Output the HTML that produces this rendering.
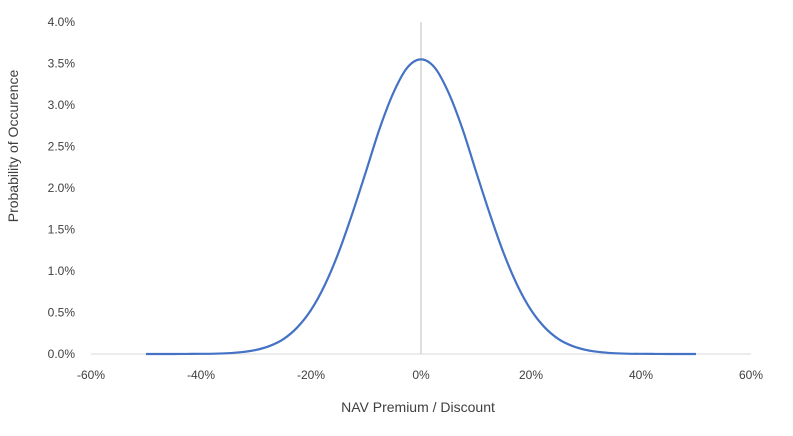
<!DOCTYPE html>
<html><head><meta charset="utf-8">
<style>
html,body{margin:0;padding:0;background:#fff;}
svg{display:block;font-family:"Liberation Sans",sans-serif;}
</style></head>
<body>
<svg id="chart" width="793" height="436" viewBox="0 0 793 436" xmlns="http://www.w3.org/2000/svg">
<g id="axes"></g>
<path id="curve" fill="none" stroke="#4472C4" stroke-width="2.2" stroke-linejoin="round"/>
<text x="18" y="146" transform="rotate(-90 18 146)" text-anchor="middle" font-size="14" fill="#404040">Probability of Occurence</text>
<text x="418" y="412" text-anchor="middle" font-size="14" fill="#404040">NAV Premium / Discount</text>
</svg>
<script>
const xValues=[-50,-47.5,-45,-42.5,-40,-37.5,-35,-32.5,-30,-27.5,-25,-22.5,-20,-17.5,-15,-12.5,-10,-7.5,-5,-2.5,0,2.5,5,7.5,10,12.5,15,17.5,20,22.5,25,27.5,30,32.5,35,37.5,40,42.5,45,47.5,50];
const yValues=[0,0,0,0.001,0.002,0.004,0.010,0.023,0.049,0.097,0.18,0.32,0.53,0.83,1.22,1.69,2.20,2.72,3.15,3.45,3.55,3.45,3.15,2.72,2.20,1.69,1.22,0.83,0.53,0.32,0.18,0.097,0.049,0.023,0.010,0.004,0.002,0.001,0,0,0];
const xTicks=[-60,-40,-20,0,20,40,60];
const yTicks=[0,0.5,1,1.5,2,2.5,3,3.5,4];

const X=v=>421+v*5.5;
const Y=v=>354-v*83;
const NS="http://www.w3.org/2000/svg";
const axes=document.getElementById('axes');
function mk(tag,attrs){const e=document.createElementNS(NS,tag);for(const k in attrs)e.setAttribute(k,attrs[k]);return e;}

const base=mk('line',{x1:X(-60),x2:X(60),y1:Y(0),y2:Y(0),stroke:'#d9d9d9','stroke-width':1});


axes.appendChild(base);
const vline=mk('line',{x1:X(0),x2:X(0),y1:Y(4),y2:Y(0),stroke:'#bfbfbf','stroke-width':1});


axes.appendChild(vline);

yTicks.forEach(t=>{
  const tx=mk('text',{x:75,y:Y(t)+4,'text-anchor':'end','font-size':12,fill:'#404040'});
  
  
  tx.textContent=t.toFixed(1)+'%';
  axes.appendChild(tx);
});
xTicks.forEach(t=>{
  const tx=mk('text',{x:X(t),y:379,'text-anchor':'middle','font-size':12,fill:'#404040'});
  
  
  tx.textContent=t+'%';
  axes.appendChild(tx);
});

const pts=xValues.map((x,i)=>[X(x),Y(yValues[i])]);
let d='M'+pts[0][0]+','+pts[0][1];
for(let i=0;i<pts.length-1;i++){
  const p0=pts[Math.max(0,i-1)],p1=pts[i],p2=pts[i+1],p3=pts[Math.min(pts.length-1,i+2)];
  const c1=[p1[0]+(p2[0]-p0[0])/6,p1[1]+(p2[1]-p0[1])/6];
  const c2=[p2[0]-(p3[0]-p1[0])/6,p2[1]-(p3[1]-p1[1])/6];
  d+=' C'+c1[0]+','+c1[1]+' '+c2[0]+','+c2[1]+' '+p2[0]+','+p2[1];
}
document.getElementById('curve').setAttribute('d',d);
</script>
</body></html>
